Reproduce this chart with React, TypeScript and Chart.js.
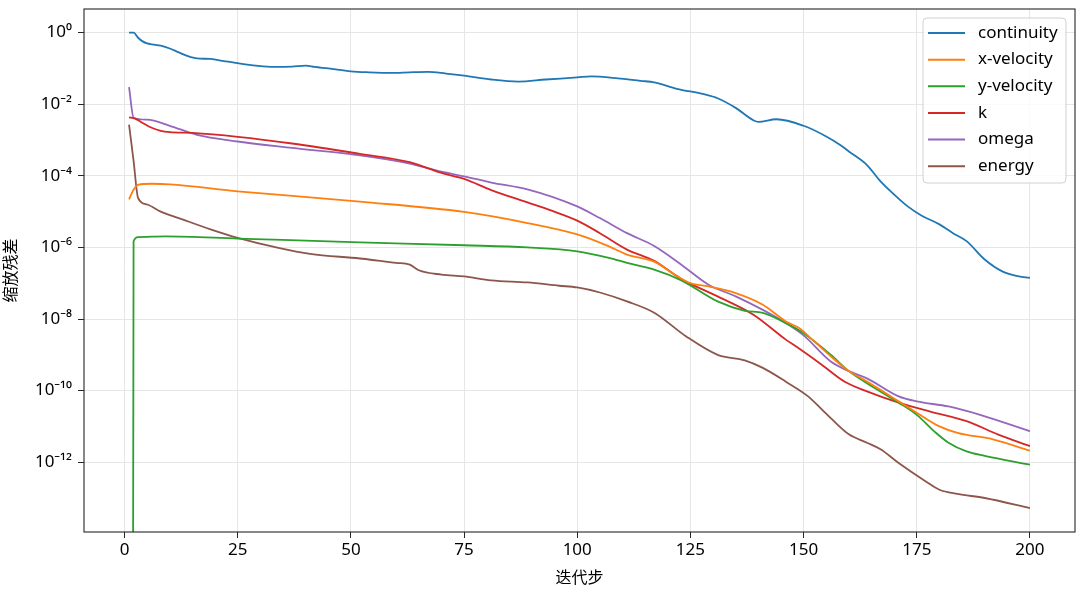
import { useEffect, useRef } from 'react';
import { Chart, registerables } from 'chart.js';

Chart.register(...registerables);

// ---- data ----
const seriesLabels = ['continuity', 'x-velocity', 'y-velocity', 'k', 'omega', 'energy'];
const seriesColors = ['#1f77b4', '#ff7f0e', '#2ca02c', '#d62728', '#9467bd', '#8c564b'];

const contX = [1, 2, 3, 4, 5, 6, 8, 10, 12, 14, 16, 19, 22, 25, 29, 33, 37, 40, 42, 45, 50, 54, 59, 63, 67, 71, 75, 81, 87, 93, 100, 103, 109, 114, 117, 122, 128, 131, 135, 139, 140, 144, 150, 155, 158, 160, 164, 167, 170, 173, 176, 180, 183, 186, 190, 194, 197, 200];
const contY = [1.0, 1.0, 0.72, 0.57, 0.5, 0.47, 0.43, 0.36, 0.28, 0.22, 0.19, 0.184, 0.16, 0.14, 0.12, 0.11, 0.112, 0.12, 0.11, 0.1, 0.083, 0.078, 0.075, 0.078, 0.08, 0.072, 0.063, 0.049, 0.043, 0.049, 0.056, 0.06, 0.053, 0.045, 0.041, 0.027, 0.019, 0.0147, 0.0079, 0.0035, 0.0032, 0.0038, 0.0025, 0.00126, 7.4e-4, 4.8e-4, 2.0e-4, 7.0e-5, 3.0e-5, 1.4e-5, 7.8e-6, 4.4e-6, 2.5e-6, 1.5e-6, 4.6e-7, 2.1e-7, 1.6e-7, 1.4e-7];

const xvelX = [1, 2, 3, 6, 10, 25, 52, 75, 89, 100, 107, 111, 117, 122, 125, 129, 135, 141, 146, 149, 152, 156, 160, 164, 168, 171, 175, 180, 184, 192, 200];
const xvelY = [2.2e-5, 4.1e-5, 5.6e-5, 6.0e-5, 5.8e-5, 3.7e-5, 1.9e-5, 9.8e-6, 4.8e-6, 2.3e-6, 1.07e-6, 6.3e-7, 4.0e-7, 1.6e-7, 1.0e-7, 8.1e-8, 5.3e-8, 2.5e-8, 8.7e-9, 5.6e-9, 2.6e-9, 9.1e-10, 3.5e-10, 1.8e-10, 8.7e-11, 5.0e-11, 2.4e-11, 1.0e-11, 6.6e-12, 4.3e-12, 2.1e-12];

const yvelX = [1, 2, 3, 9, 25, 52, 75, 89, 100, 107, 111, 117, 123, 131, 137, 141, 146, 150, 156, 160, 164, 171, 175, 179, 182, 186, 190, 200];
const yvelY = [1e-100, 1.48e-6, 1.95e-6, 2.04e-6, 1.77e-6, 1.39e-6, 1.15e-6, 1.0e-6, 7.8e-7, 5.1e-7, 3.7e-7, 2.4e-7, 1.2e-7, 3.1e-8, 1.7e-8, 1.48e-8, 7.8e-9, 4.0e-9, 1.0e-9, 3.5e-10, 1.6e-10, 4.6e-11, 2.1e-11, 7.0e-12, 3.5e-12, 2.0e-12, 1.5e-12, 8.5e-13];

const kX = [1, 2, 3, 4, 6, 8, 10, 15, 25, 37, 52, 63, 70, 75, 81, 89, 94, 100, 105, 111, 117, 123, 131, 139, 146, 149, 154, 159, 164, 171, 178, 186, 193, 200];
const kY = [4.3e-3, 4.1e-3, 3.6e-3, 3.0e-3, 2.2e-3, 1.8e-3, 1.66e-3, 1.58e-3, 1.23e-3, 8.0e-4, 4.1e-4, 2.4e-4, 1.2e-4, 8.2e-5, 4.0e-5, 1.8e-5, 1.1e-5, 5.6e-6, 2.5e-6, 8.7e-7, 4.2e-7, 1.3e-7, 4.3e-8, 1.3e-8, 2.7e-9, 1.5e-9, 5.3e-10, 1.8e-10, 9.5e-11, 4.6e-11, 2.6e-11, 1.4e-11, 5.9e-12, 2.8e-12];

const omegaX = [1, 2, 5, 10, 16, 25, 37, 52, 63, 70, 75, 81, 89, 100, 105, 111, 117, 123, 129, 135, 141, 146, 150, 156, 160, 164, 171, 175, 182, 189, 200];
const omegaY = [3.0e-2, 4.2e-3, 3.7e-3, 2.5e-3, 1.4e-3, 9.1e-4, 6.0e-4, 3.7e-4, 2.2e-4, 1.3e-4, 9.7e-5, 6.5e-5, 4.2e-5, 1.4e-5, 6.6e-6, 2.5e-6, 1.1e-6, 3.3e-7, 9.1e-8, 4.3e-8, 1.8e-8, 7.8e-9, 3.5e-9, 6.5e-10, 3.5e-10, 2.2e-10, 6.9e-11, 5.0e-11, 3.6e-11, 2.1e-11, 7.3e-12];

const energyX = [1, 2, 3, 5, 8, 12, 19, 25, 34, 41, 52, 60, 63, 65, 70, 75, 81, 89, 96, 100, 105, 111, 117, 124, 131, 137, 141, 146, 151, 154, 156, 160, 164, 167, 171, 177, 180, 184, 190, 200];
const energyY = [2.7e-3, 2.6e-4, 2.4e-5, 1.58e-5, 1.0e-5, 6.6e-6, 3.2e-6, 1.85e-6, 9.7e-7, 6.6e-7, 4.9e-7, 3.7e-7, 3.3e-7, 2.3e-7, 1.74e-7, 1.55e-7, 1.2e-7, 1.05e-7, 8.5e-8, 7.6e-8, 5.5e-8, 3.1e-8, 1.5e-8, 3.3e-9, 1.0e-9, 7.0e-10, 4.3e-10, 1.8e-10, 6.9e-11, 3.0e-11, 1.7e-11, 6.0e-12, 3.5e-12, 2.3e-12, 9.5e-13, 2.9e-13, 1.7e-13, 1.3e-13, 1.0e-13, 5.2e-14];

const xTicks = [0, 25, 50, 75, 100, 125, 150, 175, 200];
const yTickExps = [0, -2, -4, -6, -8, -10, -12];
const xTitle = '迭代步';
const yTitle = '缩放残差';

const seriesX = [contX, xvelX, yvelX, kX, omegaX, energyX];
const seriesY = [contY, xvelY, yvelY, kY, omegaY, energyY];

const SUP: Record<string, string> = {
  '0': '⁰', '1': '¹', '2': '²', '3': '³', '4': '⁴', '5': '⁵', '6': '⁶', '7': '⁷', '8': '⁸', '9': '⁹', '-': '⁻',
};
const sup = (n: number) => String(n).split('').map((c) => SUP[c] || c).join('');

const TICK_FONT = "'Noto Sans', 'DejaVu Sans', sans-serif";
const CJK_FONT = "'Noto Sans CJK SC', 'Noto Sans', sans-serif";

const decorPlugin = {
  id: 'decor',
  afterDraw(chart: any) {
    const ctx = chart.ctx as CanvasRenderingContext2D;
    const a = chart.chartArea;
    ctx.save();
    // frame
    ctx.strokeStyle = '#262626';
    ctx.lineWidth = 1.1;
    ctx.strokeRect(a.left, a.top, a.right - a.left, a.bottom - a.top);

    // axis titles
    ctx.fillStyle = '#000';
    ctx.font = `16px ${CJK_FONT}`;
    ctx.textAlign = 'center';
    ctx.textBaseline = 'middle';
    ctx.fillText(xTitle, (a.left + a.right) / 2, 577);
    ctx.save();
    ctx.translate(10, (a.top + a.bottom) / 2);
    ctx.rotate(-Math.PI / 2);
    ctx.fillText(yTitle, 0, 0);
    ctx.restore();

    // legend
    const lx = 923, ly = 18, lw = 143, lh = 165, r = 4;
    ctx.beginPath();
    ctx.moveTo(lx + r, ly);
    ctx.lineTo(lx + lw - r, ly);
    ctx.arcTo(lx + lw, ly, lx + lw, ly + r, r);
    ctx.lineTo(lx + lw, ly + lh - r);
    ctx.arcTo(lx + lw, ly + lh, lx + lw - r, ly + lh, r);
    ctx.lineTo(lx + r, ly + lh);
    ctx.arcTo(lx, ly + lh, lx, ly + lh - r, r);
    ctx.lineTo(lx, ly + r);
    ctx.arcTo(lx, ly, lx + r, ly, r);
    ctx.closePath();
    ctx.fillStyle = 'rgba(255,255,255,0.8)';
    ctx.fill();
    ctx.strokeStyle = '#d0d0d0';
    ctx.lineWidth = 1;
    ctx.stroke();

    ctx.font = `17px ${TICK_FONT}`;
    ctx.textAlign = 'left';
    ctx.textBaseline = 'middle';
    chart.data.datasets.forEach((ds: any, i: number) => {
      const y = 33 + i * 26.65;
      ctx.strokeStyle = ds.borderColor;
      ctx.lineWidth = 2;
      ctx.beginPath();
      ctx.moveTo(928, y);
      ctx.lineTo(965, y);
      ctx.stroke();
      ctx.fillStyle = '#000';
      ctx.fillText(ds.label, 978, y);
    });
    ctx.restore();
  },
};

export default function App() {
  const ref = useRef<HTMLCanvasElement | null>(null);

  useEffect(() => {
    if (!ref.current) return;
    const datasets = seriesLabels.map((label, i) => ({
      label,
      data: seriesX[i].map((x, j) => ({ x, y: seriesY[i][j] })),
      borderColor: seriesColors[i],
      backgroundColor: seriesColors[i],
      borderWidth: 1.8,
      pointRadius: 0,
      fill: false,
      cubicInterpolationMode: 'monotone' as const,
    }));

    const chart = new Chart(ref.current, {
      type: 'line',
      data: { datasets },
      options: {
        animation: false,
        responsive: false,
        devicePixelRatio: 1,
        layout: { padding: { top: 9, right: 5, left: 0, bottom: 0 } },
        plugins: { legend: { display: false }, tooltip: { enabled: false } },
        scales: {
          x: {
            type: 'linear',
            min: -8.95,
            max: 209.95,
            afterBuildTicks: (s: any) => {
              s.ticks = xTicks.map((v) => ({ value: v }));
            },
            afterFit: (s: any) => {
              s.height = 63;
              s.paddingLeft = 0;
              s.paddingRight = 0;
            },
            ticks: {
              autoSkip: false,
              maxRotation: 0,
              padding: 2,
              color: '#000',
              font: { family: TICK_FONT, size: 17 },
              callback: (v: any) => String(v),
            },
            grid: { color: '#e6e6e6', lineWidth: 1, tickLength: 6, tickColor: '#262626', drawTicks: true },
            border: { display: false },
          },
          y: {
            type: 'logarithmic',
            min: Math.pow(10, -13.95),
            max: Math.pow(10, 0.66),
            afterBuildTicks: (s: any) => {
              s.ticks = yTickExps.map((e) => ({ value: Math.pow(10, e) }));
            },
            afterFit: (s: any) => {
              s.width = 84;
              s.paddingTop = 0;
              s.paddingBottom = 0;
            },
            ticks: {
              autoSkip: false,
              padding: 6,
              color: '#000',
              font: { family: TICK_FONT, size: 17 },
              callback: (v: any) => '10' + sup(Math.round(Math.log10(Number(v)))),
            },
            grid: { color: '#e6e6e6', lineWidth: 1, tickLength: 6, tickColor: '#262626', drawTicks: true },
            border: { display: false },
          },
        },
      },
      plugins: [decorPlugin],
    });
    return () => chart.destroy();
  }, []);

  return (
    <div style={{ position: 'fixed', left: 0, top: 0, width: 1080, height: 595, background: '#fff' }}>
      <canvas ref={ref} width={1080} height={595} style={{ display: 'block' }} />
    </div>
  );
}
